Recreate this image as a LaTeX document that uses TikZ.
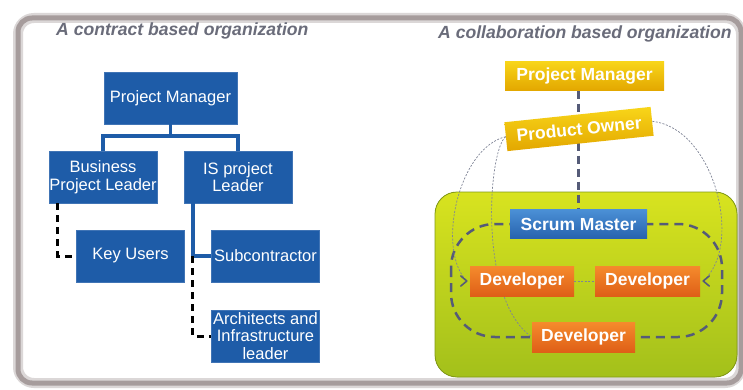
\documentclass[tikz,border=0pt]{standalone}
\usepackage{fontspec}
\setmainfont{Liberation Sans}
\usetikzlibrary{arrows.meta}

\definecolor{orgblue}{HTML}{1E5CA8}
\definecolor{titlegray}{HTML}{6A6C7A}
\definecolor{framegray}{HTML}{A69C9C}
\definecolor{linegray}{HTML}{555B78}
\definecolor{dotgray}{HTML}{7F8496}
\definecolor{greentop}{HTML}{D8E31F}
\definecolor{greenbot}{HTML}{A3C01B}
\definecolor{yellowtop}{HTML}{F8D519}
\definecolor{yellowbot}{HTML}{E3A700}
\definecolor{orangetop}{HTML}{F58B2C}
\definecolor{orangebot}{HTML}{DF5F17}
\definecolor{scrumtop}{HTML}{4B90D6}
\definecolor{scrumbot}{HTML}{2763AE}

\pgfdeclarelayer{bg}
\pgfdeclarelayer{mid}
\pgfsetlayers{bg,mid,main}

\begin{document}
\begin{tikzpicture}[x=1pt,y=-1pt,
  titletext/.style={text=titlegray, font=\fontsize{17.6}{20}\selectfont\bfseries\itshape, inner sep=0pt, anchor=west},
  orgbox/.style={draw=orgblue!85!white, fill=orgblue, text=white, font=\fontsize{16.5}{17.5}\selectfont, align=center, inner sep=0pt, minimum width=108pt, minimum height=52pt},
  orgline/.style={draw=orgblue, line width=3.5pt},
  keyline/.style={draw=black, line width=3pt, dash pattern=on 7pt off 5pt},
  rolebox/.style={text=white, font=\fontsize{17.5}{20}\selectfont\bfseries, inner sep=0pt, minimum height=29pt},
  yellowbox/.style={rolebox, top color=yellowtop, bottom color=yellowbot},
  orangebox/.style={rolebox, top color=orangetop, bottom color=orangebot, minimum height=30pt},
  scrumbox/.style={rolebox, top color=scrumtop, bottom color=scrumbot},
  spine/.style={draw=linegray, line width=3pt, dash pattern=on 8pt off 5pt},
  ringline/.style={draw=linegray, line width=2.5pt, dash pattern=on 9pt off 6pt},
  dotline/.style={draw=dotgray, line width=0.7pt, dash pattern=on 2pt off 1.5pt},
  barb/.style={draw=linegray, line width=1.6pt, line cap=round, line join=round}
]
\useasboundingbox (0,0) rectangle (743,390);
\begin{pgfonlayer}{bg}
\fill[white] (0,0) rectangle (743,390);
\draw[line width=10pt, framegray!40, rounded corners=16pt] (18,18) rectangle (741,383);
\draw[line width=5pt, framegray, rounded corners=14pt] (18,18) rectangle (741,383);
\fill[top color=greentop, bottom color=greenbot, rounded corners=22pt] (435,192) rectangle (737,377);
\draw[greenbot!80!black, line width=0.8pt, rounded corners=22pt] (435,192) rectangle (737,377);
\draw[ringline, rounded corners=44pt] (451,224) rectangle (722,337);
\end{pgfonlayer}

\node[titletext] (ltitle) at (56,31) {A contract based organization};
\node[titletext] (rtitle) at (438,34) {A collaboration based organization};

\node[orgbox, minimum width=133pt] (pm) at (170.5,98) {Project Manager};
\node[orgbox] (bpl) at (103,177) {Business\\Project Leader};
\node[orgbox] (isl) at (238,177) {IS project\\Leader};
\node[orgbox] (key) at (130.5,256) {Key Users};
\node[orgbox] (sub) at (265.5,256) {Subcontractor};
\node[orgbox] (arc) at (265.5,336) {Architects and\\Infrastructure\\leader};

\draw[orgline] (pm.south) -- ++(0,12) -| (bpl.north);
\draw[orgline] (pm.south) -- ++(0,12) -| (isl.north);
\draw[keyline] ([xshift=9pt]bpl.south west) |- (key.west);
\draw[orgline] ([xshift=9pt]isl.south west) coordinate (isd) |- (sub.west);
\draw[keyline] (isd |- sub.west) |- (arc.west);

\node[yellowbox, minimum width=159pt] (pm2) at (584.5,76) {Project Manager};
\node[yellowbox, minimum width=147pt, rotate=6] (po) at (579,129) {Product Owner};
\node[scrumbox, minimum width=137pt] (sm) at (578.5,224) {Scrum Master};
\node[orangebox, minimum width=104pt] (dev1) at (522,281) {Developer};
\node[orangebox, minimum width=105pt] (dev2) at (647.5,281) {Developer};
\node[orangebox, minimum width=103pt] (dev3) at (583.5,337) {Developer};

\begin{pgfonlayer}{mid}
\draw[spine] (pm2.south -| sm.north) -- (sm.north);
\draw[dotline] (po.west) .. controls (458,148) and (436,250) .. ([xshift=-3pt]dev1.west);
\draw[dotline] (po.west) .. controls (488,150) and (478,300) .. (dev3.west);
\draw[dotline] (po.east) .. controls (714,128) and (744,245) .. ([xshift=3pt]dev2.east);
\draw[dotline] (dev1.east) -- (dev2.west);
\draw[barb] ([shift={(-9pt,-5pt)}]dev1.west) -- ([xshift=-3pt]dev1.west) -- ([shift={(-9pt,5pt)}]dev1.west);
\draw[barb] ([shift={(9pt,-5pt)}]dev2.east) -- ([xshift=3pt]dev2.east) -- ([shift={(9pt,5pt)}]dev2.east);
\end{pgfonlayer}
\end{tikzpicture}
\end{document}
